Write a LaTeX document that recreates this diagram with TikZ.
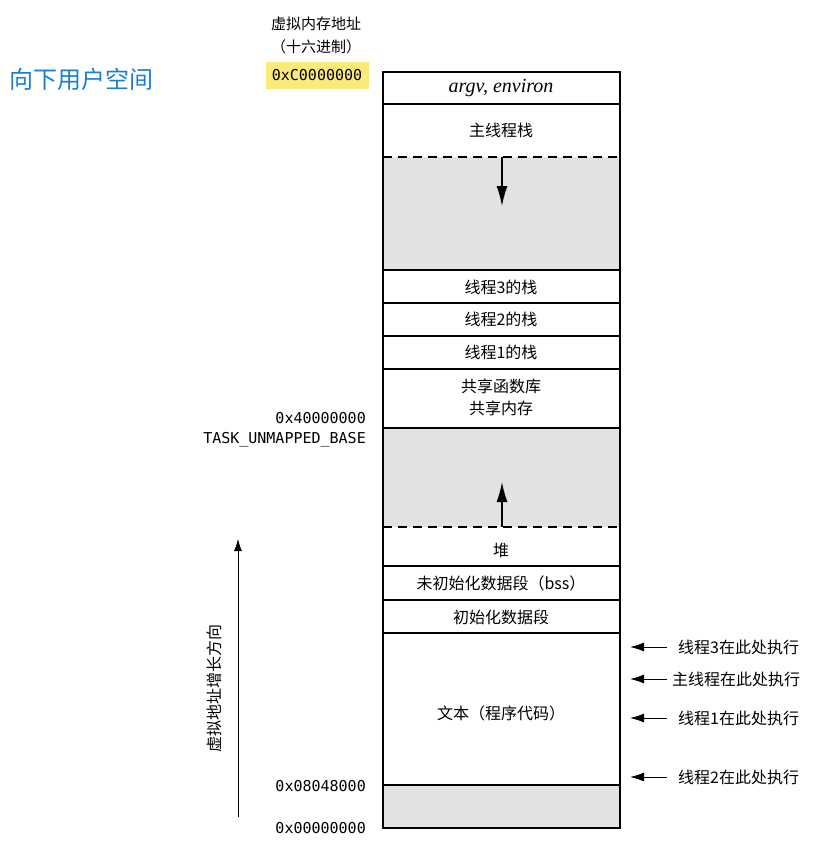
\documentclass[tikz,border=0pt]{standalone}
\usepackage{fontspec}
\setmainfont{Liberation Serif}
\newfontfamily\cjk{Noto Sans CJK SC}
\newfontfamily\hexf{DejaVu Sans Mono}
\usetikzlibrary{arrows.meta}
\definecolor{blueT}{HTML}{1A7FD4}
\definecolor{grayF}{HTML}{E2E2E2}
\definecolor{hl}{HTML}{FBEA7A}
\tikzset{
  seg/.style={draw=black,line width=1.6pt},
  lbl/.style={font=\cjk\fontsize{16}{18}\selectfont,inner sep=0pt},
  hex/.style={font=\hexf\fontsize{15}{17}\selectfont,inner sep=0pt,anchor=east},
  rl/.style={font=\cjk\fontsize{16}{18}\selectfont,inner sep=0pt,anchor=west},
  tip/.style={-{Latex[length=20pt,width=11pt]},line width=1.4pt},
}
\begin{document}
\begin{tikzpicture}[x=1pt,y=-1pt]
\useasboundingbox (0,0) rectangle (824,845);
% gray areas
\fill[grayF] (383,157) rectangle (620,270);
\fill[grayF] (383,428) rectangle (620,527);
\fill[grayF] (383,785) rectangle (620,828);
% segments
\draw[seg] (383,72) rectangle (620,828);
\foreach \y in {104,270,303,336,369,428,566,600,633,785}
  \draw[seg] (383,\y) -- (620,\y);
\draw[line width=1.6pt,dash pattern=on 9pt off 6pt] (383,157) -- (620,157);
\draw[line width=1.6pt,dash pattern=on 9pt off 6pt] (383,527) -- (620,527);
% growth arrows
\coordinate (sd) at (502,157);
\coordinate (sde) at (502,206);
\draw[tip] (sd) -- (sde);
\coordinate (hu) at (502,527);
\coordinate (hue) at (502,482);
\draw[tip] (hu) -- (hue);
% labels in box
\node[font=\itshape\fontsize{20}{22}\selectfont,inner sep=0pt] (argv) at (501,88) {argv, environ};
\node[lbl] (ms) at (501,130) {主线程栈};
\node[lbl] (t3s) at (501,287) {线程3的栈};
\node[lbl] (t2s) at (501,319) {线程2的栈};
\node[lbl] (t1s) at (501,352) {线程1的栈};
\node[lbl,align=center] (shl) at (501,397) {共享函数库\\[4pt]共享内存};
\node[lbl] (heap) at (501,550) {堆};
\node[lbl] (bss) at (501,583) {未初始化数据段（bss）};
\node[lbl] (data) at (501,617) {初始化数据段};
\node[lbl] (text) at (501,713) {文本（程序代码）};
% top-left labels
\node[font=\cjk\fontsize{24}{26}\selectfont,text=blueT,anchor=west,inner sep=0pt] (title) at (9,79) {向下用户空间};
\node[font=\cjk\fontsize{15}{17}\selectfont,inner sep=0pt] (vaddr) at (316,24) {虚拟内存地址};
\node[font=\cjk\fontsize{15}{17}\selectfont,inner sep=0pt] (hexn) at (316,47) {（十六进制）};
\fill[hl] (266,62) rectangle (369,89);
\node[hex,anchor=center] (c0) at (317,75) {0xC0000000};
\node[hex] (a40) at (366,418) {0x40000000};
\node[hex] (tub) at (366,440) {TASK\_UNMAPPED\_BASE};
\node[hex] (a08) at (366,786) {0x08048000};
\node[hex] (a00) at (366,828) {0x00000000};
% vertical growth arrow
\coordinate (vg0) at (238,817);
\coordinate (vg1) at (238,539);
\draw[-{Latex[length=12pt,width=8pt]},line width=0.8pt] (vg0) -- (vg1);
\node[lbl,rotate=90] (vdir) at (214,688) {虚拟地址增长方向};
% right side execution pointers
\node[rl] (r3) at (678,647) {线程3在此处执行};
\node[rl] (rm) at (672,679) {主线程在此处执行};
\node[rl] (r1) at (678,718) {线程1在此处执行};
\node[rl] (r2) at (678,777) {线程2在此处执行};
\foreach \n in {r3,rm,r1,r2}
  \draw[-{Latex[length=14pt,width=9pt]},line width=1pt] (\n.west -| 667,0) -- (\n.west -| 630,0);
\end{tikzpicture}
\end{document}
